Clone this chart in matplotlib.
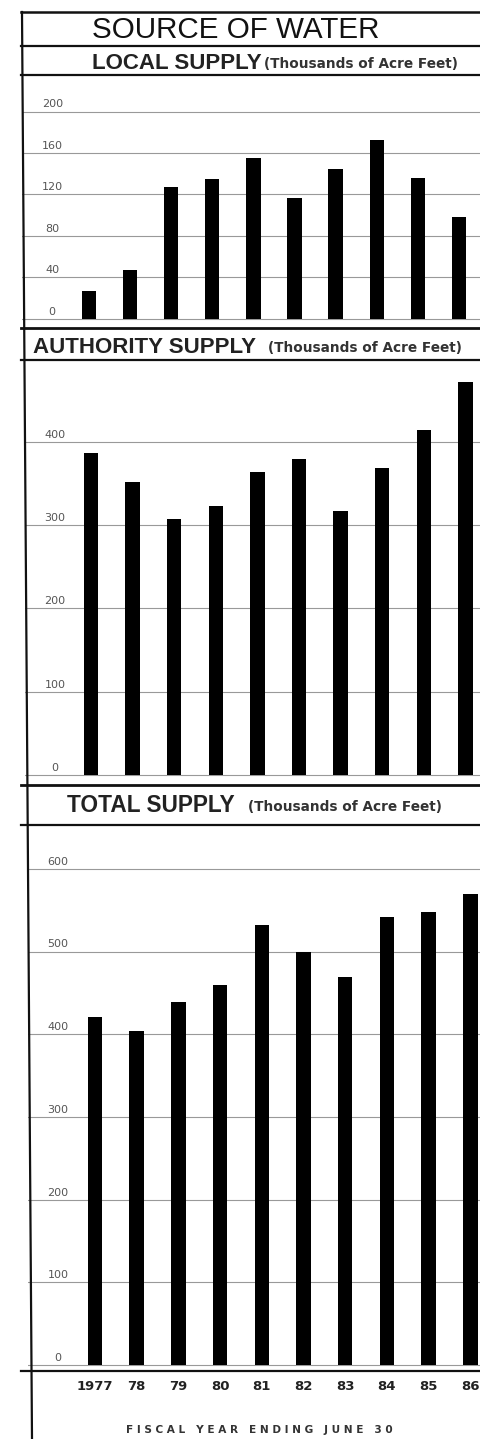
import numpy as np
import matplotlib
matplotlib.use("Agg")
import matplotlib.pyplot as plt
from matplotlib.lines import Line2D

W, H = 480, 1439

years = ["1977", "78", "79", "80", "81", "82", "83", "84", "85", "86"]
local = [27, 47, 127, 135, 155, 117, 145, 173, 136, 98]
authority = [386, 352, 307, 323, 364, 379, 317, 369, 414, 472]
total = [421, 404, 439, 459, 532, 499, 469, 542, 548, 570]

local_ticks = [0, 40, 80, 120, 160, 200]
authority_ticks = [0, 100, 200, 300, 400]
total_ticks = [0, 100, 200, 300, 400, 500, 600]


def rect(l, t, r, b):
    # pixel box -> figure fraction
    return [l / W, 1 - b / H, (r - l) / W, (b - t) / H]


def fy(y):
    return 1 - y / H


fig = plt.figure(figsize=(W / 100, H / 100), dpi=100)
fig.patch.set_facecolor("white")

# (values, ticks, pixel box, ylim, first bar centre px, spacing px)
panels = [
    (local, local_ticks, (22, 75, 480, 328), (-8.7, 235.2), 89, 41.1),
    (authority, authority_ticks, (25, 360, 480, 785), (-12, 498), 91, 41.6),
    (total, total_ticks, (28, 825, 480, 1371), (-7.3, 653), 95, 41.7),
]

axes = []
for vals, ticks, box, ylim, c0, sp in panels:
    ax = fig.add_axes(rect(*box))
    x = np.arange(len(vals))
    ax.bar(x, vals, width=0.35, color="black", zorder=3)
    l = box[0]
    ax.set_xlim(-(c0 - l) / sp, (480 - c0) / sp)
    ax.set_ylim(*ylim)
    ax.set_yticks(ticks)
    ax.tick_params(length=0, labelleft=False, labelbottom=False)
    ax.grid(axis="y", color="#999999", lw=0.8)
    ax.set_axisbelow(True)
    for s in ax.spines.values():
        s.set_visible(False)
    for t in ticks:
        ax.annotate(str(t), (0.066, t), xycoords=ax.get_yaxis_transform(),
                    xytext=(0, 1.5), textcoords="offset points",
                    ha="center", va="bottom", fontsize=8, color="#555",
                    family="DejaVu Sans")
    axes.append(ax)

# year labels under the total panel
ax = axes[2]
ax.set_xticks(np.arange(len(years)))
ax.set_xticklabels(years, fontsize=9.5, fontweight="bold", color="#222",
                   family="DejaVu Sans")
ax.tick_params(axis="x", labelbottom=True, pad=6.5)

# frame lines
for y, lw in [(12, 1.8), (46, 1.6), (75, 1.6), (328, 2.0), (360, 1.6),
              (785, 2.0), (825, 1.6), (1371, 1.6)]:
    fig.add_artist(Line2D([21 / W, 1], [fy(y), fy(y)], transform=fig.transFigure,
                          color="#111", lw=lw))
fig.add_artist(Line2D([22 / W, 32 / W], [fy(12), fy(1439)], transform=fig.transFigure,
                      color="#111", lw=1.6))

# headers
units = "(Thousands of Acre Feet)"
fig.text(92 / W, fy(38), "SOURCE OF WATER", fontsize=21.3, color="#111",
         family="Liberation Sans", ha="left", va="baseline")
fig.text(92 / W, fy(69), "LOCAL SUPPLY", fontsize=16, fontweight="bold", color="#222",
         family="Liberation Sans", ha="left", va="baseline")
fig.text(264 / W, fy(68), units, fontsize=9.8, fontweight="bold",
         color="#333", family="DejaVu Sans", ha="left", va="baseline")
fig.text(33 / W, fy(353), "AUTHORITY SUPPLY", fontsize=16, fontweight="bold", color="#222",
         family="Liberation Sans", ha="left", va="baseline")
fig.text(268 / W, fy(352), units, fontsize=9.8, fontweight="bold",
         color="#333", family="DejaVu Sans", ha="left", va="baseline")
fig.text(67 / W, fy(812), "TOTAL SUPPLY", fontsize=16.3, fontweight="bold", color="#222",
         family="Liberation Sans", ha="left", va="baseline")
fig.text(248 / W, fy(811), units, fontsize=9.8, fontweight="bold",
         color="#333", family="DejaVu Sans", ha="left", va="baseline")

fig.text(259 / W, fy(1433), "F I S C A L   Y E A R   E N D I N G   J U N E   3 0",
         fontsize=7.6, fontweight="bold", color="#333", family="DejaVu Sans",
         ha="center", va="baseline")

fig.savefig("out.png", dpi=100, facecolor="white")
